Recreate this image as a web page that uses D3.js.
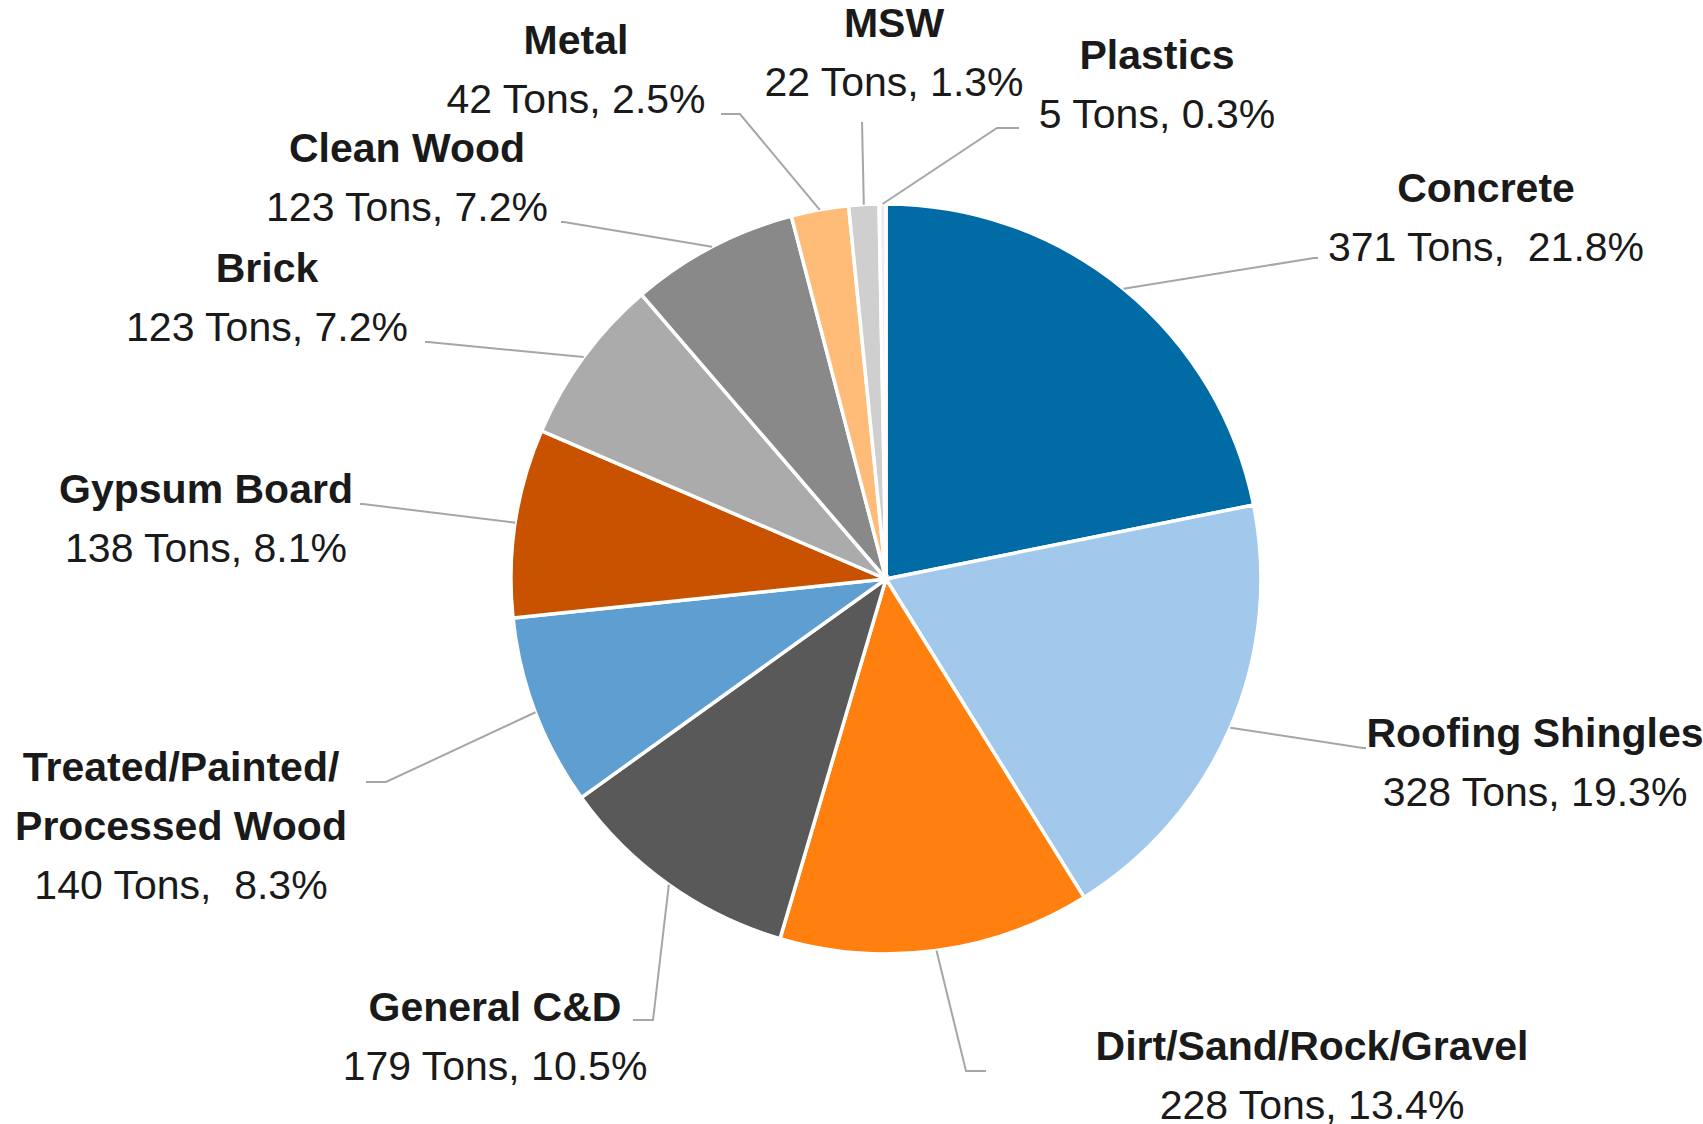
<!DOCTYPE html>
<html lang="en">
<head>
    <meta charset="UTF-8">
    <title>C&amp;D Waste Composition</title>
    <style>
        body {
            margin: 0;
            background: #ffffff;
        }

        #chart {
            display: block;
        }

        .slice {
            stroke: #ffffff;
            stroke-width: 3.5px;
        }

        .leader {
            fill: none;
            stroke: #a6a6a6;
            stroke-width: 2px;
        }

        .label text {
            font-family: 'Liberation Sans', Arial, sans-serif;
            font-size: 41px;
            fill: #1a1a1a;
        }

        .label .name {
            font-weight: bold;
        }
    </style>
    <script src="https://d3js.org/d3.v7.min.js"></script>
</head>
<body>
    <svg id="chart" width="1703" height="1124"></svg>

    <script>
        // data
        const categories = [
            "Concrete", "Roofing Shingles", "Dirt/Sand/Rock/Gravel", "General C&D",
            "Treated/Painted/ Processed Wood", "Gypsum Board", "Brick", "Clean Wood",
            "Metal", "MSW", "Plastics"
        ];
        const tons = [371, 328, 228, 179, 140, 138, 123, 123, 42, 22, 5];
        const percents = ["21.8%", "19.3%", "13.4%", "10.5%", "8.3%", "8.1%", "7.2%", "7.2%", "2.5%", "1.3%", "0.3%"];
        const colors = [
            "#006BA4", "#A2C8EC", "#FF800E", "#595959", "#5F9ED1", "#C85200",
            "#ABABAB", "#898989", "#FFBC79", "#CFCFCF", "#EDEDED"
        ];

        // label layout (label centre x, first line y, elbow of leader, tail end x)
        const labelPos = [
            { x: 1486, y: 187, elbow: [1314, 258], tail: 1318, valueSep: ",  " },
            { x: 1535, y: 732, elbow: [1363, 748], tail: 1366 },
            { x: 1312, y: 1045, elbow: [966, 1071], tail: 986 },
            { x: 495, y: 1006, elbow: [653, 1020], tail: 633 },
            { x: 181, y: 766, elbow: [386, 782], tail: 366, valueSep: ",  " },
            { x: 206, y: 488, elbow: [363, 504], tail: 360 },
            { x: 267, y: 267, elbow: [428, 342], tail: 425 },
            { x: 407, y: 147, elbow: [564, 222], tail: 561 },
            { x: 576, y: 39, elbow: [740, 114], tail: 721 },
            { x: 894, y: 22, elbow: [862, 122], tail: 862 },
            { x: 1157, y: 54, elbow: [997, 128], tail: 1019 }
        ];

        const cx = 886, cy = 579, radius = 375, lineGap = 59;

        const svg = d3.select("#chart");
        const g = svg.append("g").attr("transform", `translate(${cx},${cy})`);

        const pie = d3.pie().sort(null).value(d => d.value);
        const rows = categories.map((c, i) => ({ name: c, value: tons[i], pct: percents[i], color: colors[i], pos: labelPos[i] }));
        const arcs = pie(rows);

        const arc = d3.arc().innerRadius(0).outerRadius(radius);

        g.selectAll("path.slice")
            .data(arcs)
            .enter().append("path")
            .attr("class", "slice")
            .attr("fill", d => d.data.color)
            .attr("d", arc);

        // leader lines: from the slice edge to the label
        arcs.forEach(d => {
            const mid = (d.startAngle + d.endAngle) / 2;
            const sx = cx + radius * Math.sin(mid);
            const sy = cy - radius * Math.cos(mid);
            const p = d.data.pos;
            svg.append("path")
                .attr("class", "leader")
                .attr("d", d3.line()([[sx, sy], p.elbow, [p.tail, p.elbow[1]]]));
        });

        // labels
        arcs.forEach(d => {
            const p = d.data.pos;
            const lab = svg.append("g").attr("class", "label");
            const nameLines = d.data.name.includes("/ ")
                ? d.data.name.split("/ ").map((s, k, a) => k < a.length - 1 ? s + "/" : s)
                : [d.data.name];
            nameLines.forEach((ln, k) => {
                lab.append("text")
                    .attr("class", "name")
                    .attr("x", p.x)
                    .attr("y", p.y + k * lineGap)
                    .attr("dy", "0.36em")
                    .attr("text-anchor", "middle")
                    .text(ln);
            });
            lab.append("text")
                .attr("x", p.x)
                .attr("y", p.y + nameLines.length * lineGap)
                .attr("dy", "0.36em")
                .attr("text-anchor", "middle")
                .style("white-space", "pre")
                .text(`${d.data.value} Tons${p.valueSep || ", "}${d.data.pct}`);
        });
    </script>
</body>
</html>
